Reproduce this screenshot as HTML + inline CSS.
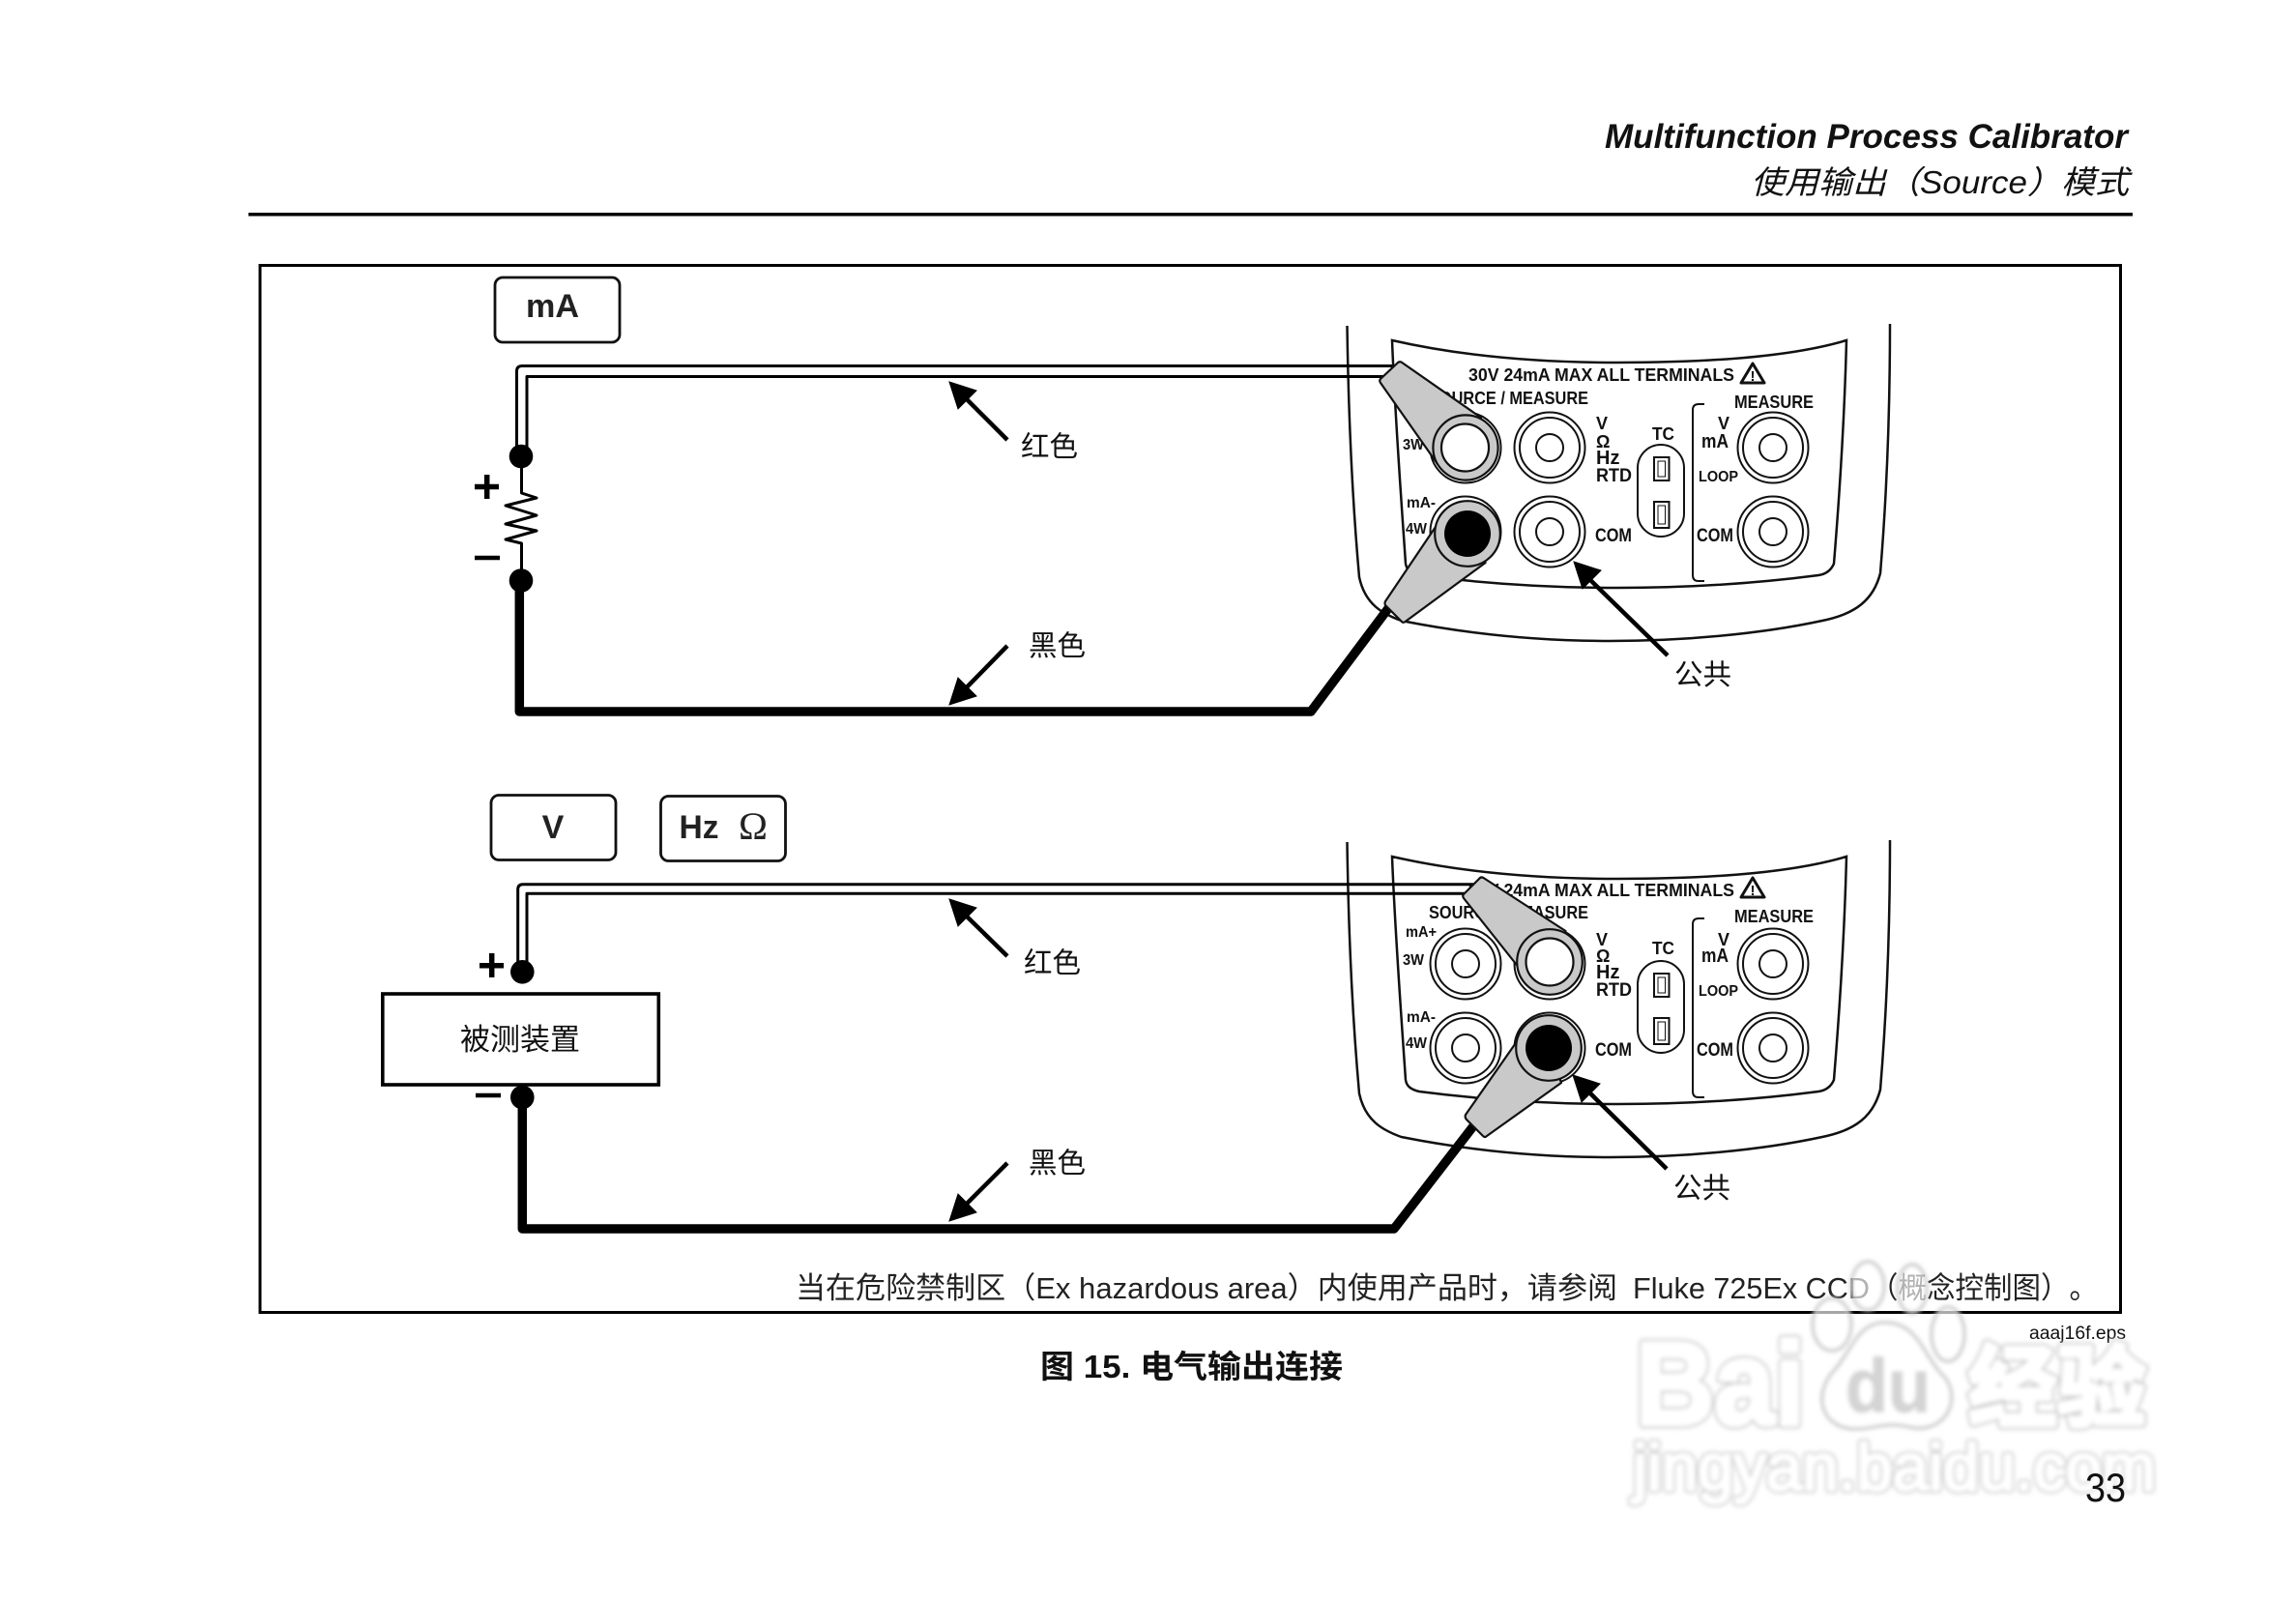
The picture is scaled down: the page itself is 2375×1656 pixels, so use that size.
<!DOCTYPE html>
<html><head><meta charset="utf-8"><style>
html,body{margin:0;padding:0;background:#fff;width:2375px;height:1656px;overflow:hidden}
svg{display:block}
text{font-family:"Liberation Sans","Noto Sans CJK SC",sans-serif;fill:#111;text-spacing-trim:space-all}
.b{font-weight:bold}
.body{fill:none;stroke:#111;stroke-width:2.5}
.t1{fill:none;stroke:#111;stroke-width:2}
.pr{fill:#c9c9c9;stroke:#111;stroke-width:2.2;stroke-linejoin:round}
.w{fill:none;stroke:#000;stroke-linejoin:round}
.wmo{fill:#c8c8c8;stroke:#c8c8c8;stroke-linejoin:round}
.wmi{fill:#fff;stroke:#fff;stroke-linejoin:round}
</style></head><body>
<svg width="2375" height="1656" viewBox="0 0 2375 1656" xmlns="http://www.w3.org/2000/svg">
<defs>
<filter id="bl" x="-5%" y="-20%" width="110%" height="140%"><feGaussianBlur stdDeviation="2"/></filter>
</defs>
<rect width="2375" height="1656" fill="#fff"/>

<!-- header -->
<text x="1660" y="153" class="b" font-style="italic" font-size="35" textLength="541" lengthAdjust="spacingAndGlyphs">Multifunction Process Calibrator</text>
<text x="1811" y="200" font-style="italic" font-size="33" textLength="391" lengthAdjust="spacingAndGlyphs">使用输出（Source）模式</text>
<rect x="257" y="220" width="1949" height="3.5" fill="#000"/>
<rect x="269" y="274.5" width="1924.5" height="1083" fill="none" stroke="#000" stroke-width="3"/>

<!-- TOP DEVICE -->
<g id="dev1">
<path class="body" d="M1393.5 337 C1395 440 1400 530 1406 597 C1412 625 1430 635 1449.5 642 C1520 656 1590 663 1665 663 C1740 663 1820 656 1885 642 C1920 635 1938 620 1945 593 C1951 520 1955 430 1955 335"/>
<path class="body" d="M1440 352 C1510 368 1590 375 1673 375 C1760 375 1850 370 1910 352 C1908 430 1903 510 1897 583 C1894 590 1888 594 1881 595 C1820 603 1750 608 1673 608 C1600 608 1530 603 1468 595 C1460 593 1455 590 1454 583 C1449 510 1443 430 1440 352 Z"/>
<text x="1519" y="394" class="b" font-size="18" textLength="275" lengthAdjust="spacingAndGlyphs">30V 24mA MAX ALL TERMINALS</text>
<path d="M1813 376 L1825 396 L1801 396 Z" fill="#fff" stroke="#111" stroke-width="3" stroke-linejoin="round"/>
<text x="1813" y="394" class="b" font-size="15" text-anchor="middle">!</text>
<text x="1478" y="418" class="b" font-size="18" textLength="165" lengthAdjust="spacingAndGlyphs">SOURCE / MEASURE</text>
<text x="1794" y="422" class="b" font-size="18" textLength="82" lengthAdjust="spacingAndGlyphs">MEASURE</text>
<text x="1451" y="465" class="b" font-size="16" textLength="22" lengthAdjust="spacingAndGlyphs">3W</text>
<text x="1455" y="525" class="b" font-size="16" textLength="30" lengthAdjust="spacingAndGlyphs">mA-</text>
<text x="1454" y="552" class="b" font-size="16" textLength="22" lengthAdjust="spacingAndGlyphs">4W</text>
<text x="1651" y="444" class="b" font-size="18">V</text>
<text x="1651" y="463" class="b" font-size="18" style="font-family:'Liberation Sans',sans-serif">Ω</text>
<text x="1651" y="480" class="b" font-size="20">Hz</text>
<text x="1651" y="498" class="b" font-size="19" textLength="37" lengthAdjust="spacingAndGlyphs">RTD</text>
<text x="1650" y="560" class="b" font-size="19" textLength="38" lengthAdjust="spacingAndGlyphs">COM</text>
<text x="1709" y="455" class="b" font-size="18" textLength="23" lengthAdjust="spacingAndGlyphs">TC</text>
<text x="1777" y="444" class="b" font-size="18">V</text>
<text x="1760" y="463" class="b" font-size="20" textLength="28" lengthAdjust="spacingAndGlyphs">mA</text>
<text x="1757" y="498" class="b" font-size="16" textLength="41" lengthAdjust="spacingAndGlyphs">LOOP</text>
<text x="1755" y="560" class="b" font-size="19" textLength="38" lengthAdjust="spacingAndGlyphs">COM</text>
<rect x="1694" y="460" width="48" height="95" rx="24" class="t1"/>
<rect x="1711" y="473" width="15.5" height="24" class="t1"/><rect x="1715" y="477" width="7.5" height="16" fill="none" stroke="#111" stroke-width="1"/>
<rect x="1711" y="519" width="15.5" height="27" class="t1"/><rect x="1715" y="523" width="7.5" height="19" fill="none" stroke="#111" stroke-width="1"/>
<path class="t1" d="M1763 418 H1757 Q1751 418 1751 424 V595 Q1751 601 1757 601 H1763"/>
<g class="t1">
<circle cx="1516" cy="463" r="36.5"/><circle cx="1516" cy="550" r="36.5"/><circle cx="1516" cy="550" r="31"/>
<circle cx="1603" cy="463" r="36.5"/><circle cx="1603" cy="463" r="31"/><circle cx="1603" cy="463" r="14"/>
<circle cx="1603" cy="550" r="36.5"/><circle cx="1603" cy="550" r="31"/><circle cx="1603" cy="550" r="14"/>
<circle cx="1834" cy="463" r="36.5"/><circle cx="1834" cy="463" r="31"/><circle cx="1834" cy="463" r="14"/>
<circle cx="1834" cy="550" r="36.5"/><circle cx="1834" cy="550" r="31"/><circle cx="1834" cy="550" r="14"/>
</g>
</g>

<!-- BOTTOM DEVICE -->
<g id="dev2" transform="translate(0,534)">
<path class="body" d="M1393.5 337 C1395 440 1400 530 1406 597 C1412 625 1430 635 1449.5 642 C1520 656 1590 663 1665 663 C1740 663 1820 656 1885 642 C1920 635 1938 620 1945 593 C1951 520 1955 430 1955 335"/>
<path class="body" d="M1440 352 C1510 368 1590 375 1673 375 C1760 375 1850 370 1910 352 C1908 430 1903 510 1897 583 C1894 590 1888 594 1881 595 C1820 603 1750 608 1673 608 C1600 608 1530 603 1468 595 C1460 593 1455 590 1454 583 C1449 510 1443 430 1440 352 Z"/>
<text x="1519" y="393" class="b" font-size="18" textLength="275" lengthAdjust="spacingAndGlyphs">30V 24mA MAX ALL TERMINALS</text>
<path d="M1813 374 L1825 394 L1801 394 Z" fill="#fff" stroke="#111" stroke-width="3" stroke-linejoin="round"/>
<text x="1813" y="392" class="b" font-size="15" text-anchor="middle">!</text>
<text x="1478" y="416" class="b" font-size="18" textLength="165" lengthAdjust="spacingAndGlyphs">SOURCE / MEASURE</text>
<text x="1794" y="420" class="b" font-size="18" textLength="82" lengthAdjust="spacingAndGlyphs">MEASURE</text>
<text x="1454" y="435" class="b" font-size="16" textLength="32" lengthAdjust="spacingAndGlyphs">mA+</text>
<text x="1451" y="464" class="b" font-size="16" textLength="22" lengthAdjust="spacingAndGlyphs">3W</text>
<text x="1455" y="523" class="b" font-size="16" textLength="30" lengthAdjust="spacingAndGlyphs">mA-</text>
<text x="1454" y="550" class="b" font-size="16" textLength="22" lengthAdjust="spacingAndGlyphs">4W</text>
<text x="1651" y="444" class="b" font-size="18">V</text>
<text x="1651" y="461" class="b" font-size="18" style="font-family:'Liberation Sans',sans-serif">Ω</text>
<text x="1651" y="478" class="b" font-size="20">Hz</text>
<text x="1651" y="496" class="b" font-size="19" textLength="37" lengthAdjust="spacingAndGlyphs">RTD</text>
<text x="1650" y="558" class="b" font-size="19" textLength="38" lengthAdjust="spacingAndGlyphs">COM</text>
<text x="1709" y="453" class="b" font-size="18" textLength="23" lengthAdjust="spacingAndGlyphs">TC</text>
<text x="1777" y="444" class="b" font-size="18">V</text>
<text x="1760" y="461" class="b" font-size="20" textLength="28" lengthAdjust="spacingAndGlyphs">mA</text>
<text x="1757" y="496" class="b" font-size="16" textLength="41" lengthAdjust="spacingAndGlyphs">LOOP</text>
<text x="1755" y="558" class="b" font-size="19" textLength="38" lengthAdjust="spacingAndGlyphs">COM</text>
<rect x="1694" y="460" width="48" height="95" rx="24" class="t1"/>
<rect x="1711" y="473" width="15.5" height="24" class="t1"/><rect x="1715" y="477" width="7.5" height="16" fill="none" stroke="#111" stroke-width="1"/>
<rect x="1711" y="519" width="15.5" height="27" class="t1"/><rect x="1715" y="523" width="7.5" height="19" fill="none" stroke="#111" stroke-width="1"/>
<path class="t1" d="M1763 416 H1757 Q1751 416 1751 422 V595 Q1751 601 1757 601 H1763"/>
<g class="t1">
<circle cx="1516" cy="463" r="36.5"/><circle cx="1516" cy="463" r="31"/><circle cx="1516" cy="463" r="14"/>
<circle cx="1516" cy="550" r="36.5"/><circle cx="1516" cy="550" r="31"/><circle cx="1516" cy="550" r="14"/>
<circle cx="1603" cy="463" r="36.5"/>
<circle cx="1603" cy="550" r="36.5"/>
<circle cx="1834" cy="463" r="36.5"/><circle cx="1834" cy="463" r="31"/><circle cx="1834" cy="463" r="14"/>
<circle cx="1834" cy="550" r="36.5"/><circle cx="1834" cy="550" r="31"/><circle cx="1834" cy="550" r="14"/>
</g>
</g>

<!-- top wires -->
<path class="w" stroke-width="3" d="M1440 378.5 H540 Q534.5 378.5 534.5 384 V472"/>
<path class="w" stroke-width="3" d="M1440 389.5 H545 V472"/>
<circle cx="539" cy="472" r="12.3" fill="#000"/>
<path class="w" stroke-width="3" d="M539.5 472 V510 L555 515 L523 523 L555 533 L523 542 L555 549 L523 558 L539.5 562 V600"/>
<circle cx="539" cy="600.5" r="12.3" fill="#000"/>
<path class="w" stroke-width="9.5" d="M537.3 600 V736 H1356 L1440 624"/>
<path d="M491 503.5 H516 M503.7 491 V516" stroke="#000" stroke-width="5.5" fill="none"/>
<path d="M491 577 H517" stroke="#000" stroke-width="4.5" fill="none"/>

<rect x="512" y="287" width="129" height="67" rx="8" fill="none" stroke="#111" stroke-width="2.8"/>
<text x="544" y="328" class="b" font-size="34" textLength="55" lengthAdjust="spacingAndGlyphs" style="fill:#222">mA</text>

<!-- top probes -->
<path class="pr" d="M1449.5 374.5 L1532 432 L1516 463 L1487 480 L1428 396 Q1426 393 1429 391 L1445 376 Q1447 373.5 1449.5 374.5Z"/>
<circle cx="1516" cy="463" r="33.6" fill="#c9c9c9" stroke="#111" stroke-width="2.2"/>
<circle cx="1515.5" cy="463" r="24.5" fill="#fff" stroke="#111" stroke-width="2.2"/>
<path class="pr" d="M1433 622 L1493 533 L1518 552 L1536.6 582 L1453.6 643 Q1451 645 1449 642 L1433 626 Q1432 624 1433 622Z"/>
<circle cx="1518" cy="552" r="33.8" fill="#c9c9c9" stroke="#111" stroke-width="2.2"/>
<circle cx="1518" cy="552" r="24" fill="#000"/>

<!-- bottom wires -->
<path class="w" stroke-width="3" d="M1525 914.7 H541 Q535.7 914.7 535.7 920 V1005"/>
<path class="w" stroke-width="3" d="M1525 924.3 H545 V1005"/>
<circle cx="540.3" cy="1005.3" r="12.3" fill="#000"/>
<rect x="395.8" y="1028" width="285.5" height="94" fill="#fff" stroke="#000" stroke-width="3.6"/>
<text x="476" y="1086" font-size="31">被测装置</text>
<circle cx="540.3" cy="1135" r="12.3" fill="#000"/>
<path class="w" stroke-width="9.5" d="M540.3 1135 V1271 H1442 L1527 1161"/>
<path d="M496 998.7 H521 M508.7 986 V1011" stroke="#000" stroke-width="5.5" fill="none"/>
<path d="M492 1133 H518" stroke="#000" stroke-width="4.5" fill="none"/>

<rect x="508" y="822.5" width="129" height="67" rx="8" fill="none" stroke="#111" stroke-width="2.8"/>
<text x="572" y="867" class="b" font-size="34" text-anchor="middle" style="fill:#222">V</text>
<rect x="683.5" y="823.5" width="129" height="67" rx="8" fill="none" stroke="#111" stroke-width="2.8"/>
<text x="702.5" y="867" class="b" font-size="34" textLength="41" lengthAdjust="spacingAndGlyphs" style="fill:#222">Hz</text>
<text x="764" y="868" font-size="40" textLength="30" lengthAdjust="spacingAndGlyphs" style="font-family:'Liberation Serif',serif;fill:#222">Ω</text>

<!-- bottom probes -->
<path class="pr" d="M1534.5 908 L1619.5 963 L1603 995 L1572 1002 L1514 929 Q1512 926 1515 924 L1530 909 Q1532 906.5 1534.5 908Z"/>
<circle cx="1603" cy="995" r="33.8" fill="#c9c9c9" stroke="#111" stroke-width="2.2"/>
<circle cx="1603" cy="995" r="24.5" fill="#fff" stroke="#111" stroke-width="2.2"/>
<path class="pr" d="M1516 1153 L1572 1073 L1602 1084 L1615 1120 L1538 1175 Q1536 1177 1534 1175 L1517 1158 Q1515 1156 1516 1153Z"/>
<circle cx="1602" cy="1084" r="33.8" fill="#c9c9c9" stroke="#111" stroke-width="2.2"/>
<circle cx="1602" cy="1084" r="24" fill="#000"/>

<!-- arrows -->
<g stroke="#000" stroke-width="4.5" fill="#000">
<path d="M1042 455 L995 408"/><path d="M982 395 L1010 404 L991 423Z" stroke-width="1"/>
<path d="M1042 668 L995 716"/><path d="M982 729 L991 701 L1010 720Z" stroke-width="1"/>
<path d="M1725 678 L1640 595"/><path d="M1628 581 L1656 590 L1637 609Z" stroke-width="1"/>
<path d="M1042 989 L995 943"/><path d="M982 930 L1010 939 L991 958Z" stroke-width="1"/>
<path d="M1042 1203 L995 1250"/><path d="M982 1263 L991 1235 L1010 1254Z" stroke-width="1"/>
<path d="M1724 1209 L1639 1125"/><path d="M1627 1112 L1655 1121 L1636 1140Z" stroke-width="1"/>
</g>

<text x="1056" y="472" font-size="29.5">红色</text>
<text x="1064" y="678" font-size="29.5">黑色</text>
<text x="1732" y="708" font-size="29.5">公共</text>
<text x="1059" y="1006" font-size="29.5">红色</text>
<text x="1064" y="1213" font-size="29.5">黑色</text>
<text x="1731" y="1239" font-size="29.5">公共</text>

<text x="823" y="1343" font-size="31" textLength="850" lengthAdjust="spacingAndGlyphs" style="fill:#222">当在危险禁制区（Ex hazardous area）内使用产品时，请参阅</text>
<text x="1689" y="1343" font-size="31" textLength="245" lengthAdjust="spacingAndGlyphs" style="fill:#222">Fluke 725Ex CCD</text>
<text x="1934" y="1343" font-size="31" textLength="236" lengthAdjust="spacingAndGlyphs" style="fill:#222">（概念控制图）。</text>
<text x="1076" y="1425" class="b" font-size="33" textLength="313" lengthAdjust="spacingAndGlyphs">图 15. 电气输出连接</text>
<text x="2099" y="1385" font-size="19" textLength="100" lengthAdjust="spacingAndGlyphs">aaaj16f.eps</text>

<!-- watermark -->
<g filter="url(#bl)">
<g fill="#fff" fill-opacity="0.65" stroke="#c4c4c4" stroke-width="3">
<ellipse cx="1932" cy="1330" rx="17" ry="25"/>
<ellipse cx="1895" cy="1370" rx="20" ry="27"/>
<ellipse cx="1978" cy="1333" rx="15" ry="25"/>
<ellipse cx="2015" cy="1380" rx="17" ry="28"/>
</g>
<path fill="#fff" stroke="#c4c4c4" stroke-width="3" d="M1950 1368 C1920 1368 1915 1400 1895 1420 C1875 1445 1885 1478 1920 1478 C1940 1478 1950 1470 1975 1476 C2010 1484 2030 1450 2012 1425 C1990 1405 1985 1368 1950 1368Z"/>
<text x="1692" y="1473" class="b wmo" font-size="122" textLength="175" lengthAdjust="spacingAndGlyphs" stroke-width="9">Bai</text>
<text x="1692" y="1473" class="b wmi" font-size="122" textLength="175" lengthAdjust="spacingAndGlyphs" stroke-width="5">Bai</text>
<text x="1909" y="1460" class="b" font-size="78" textLength="88" lengthAdjust="spacingAndGlyphs" style="fill:#d4d4d4;stroke:#ccc;stroke-width:1">du</text>
<text x="2036" y="1468" class="b wmo" font-size="92" textLength="184" lengthAdjust="spacingAndGlyphs" stroke-width="9">经验</text>
<text x="2036" y="1468" class="b wmi" font-size="92" textLength="184" lengthAdjust="spacingAndGlyphs" stroke-width="5">经验</text>
<text x="1689" y="1541" class="wmo" font-size="68" textLength="541" lengthAdjust="spacingAndGlyphs" stroke-width="7">jingyan.baidu.com</text>
<text x="1689" y="1541" class="wmi" font-size="68" textLength="541" lengthAdjust="spacingAndGlyphs" stroke-width="3.5">jingyan.baidu.com</text>
</g>
<text x="2157" y="1553" font-size="42" textLength="42" lengthAdjust="spacingAndGlyphs">33</text>
</svg>
</body></html>
